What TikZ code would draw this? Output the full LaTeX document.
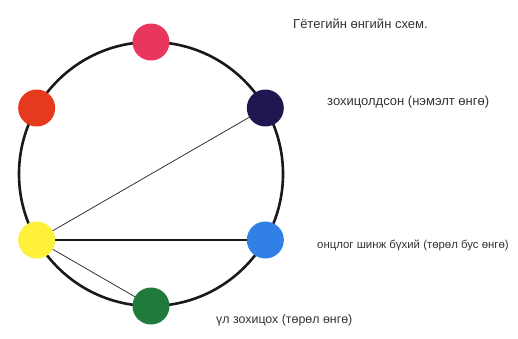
\documentclass[tikz,border=0pt]{standalone}
\usepackage{fontspec}
\setmainfont{Liberation Sans}
\usetikzlibrary{calc}
\definecolor{cpink}{HTML}{E8365C}
\definecolor{cred}{HTML}{E63A1E}
\definecolor{cnavy}{HTML}{221650}
\definecolor{cyellow}{HTML}{FFF03A}
\definecolor{cblue}{HTML}{3080E6}
\definecolor{cgreen}{HTML}{1F7A3C}
\definecolor{ctext}{HTML}{333333}
\tikzset{
  dot/.style={circle, minimum size=37pt, inner sep=0pt, fill=#1},
  lbl/.style={anchor=west, inner sep=0pt, text=ctext},
  ring/.style={line width=2.6pt, black!90},
  chord/.style={line width=0.8pt, black!80},
  chordb/.style={line width=1.3pt, black!90}
}
\begin{document}
\begin{tikzpicture}[x=1pt,y=-1pt]
\useasboundingbox[fill=white] (0,0) rectangle (518,338);
\coordinate (c) at (151,174);
\draw[ring] (c) circle (132);
\coordinate (py) at ($(c)+(-210:132)$);
\coordinate (pn) at ($(c)+(-30:132)$);
\coordinate (pb) at ($(c)+(30:132)$);
\coordinate (pg) at ($(c)+(90:132)$);
\draw[chord] (py) -- (pn);
\draw[chordb] (py) -- (pb);
\draw[chord] (py) -- (pg);
\node[dot=cpink]   (pink)   at ($(c)+(-90:132)$) {};
\node[dot=cred]    (red)    at ($(c)+(-150:132)$) {};
\node[dot=cyellow] (yellow) at (py) {};
\node[dot=cgreen]  (green)  at (pg) {};
\node[dot=cblue]   (blue)   at (pb) {};
\node[dot=cnavy]   (navy)   at (pn) {};
\node[lbl, font=\fontsize{13}{15}\selectfont] (title) at (293,24) {Гётегийн өнгийн схем.};
\node[lbl, font=\fontsize{13}{15}\selectfont] (t1) at (327,102) {зохицолдсон (нэмэлт өнгө)};
\node[lbl, font=\fontsize{11.4}{14}\selectfont] (t2) at (317,245) {онцлог шинж бүхий (төрөл бус өнгө)};
\node[lbl, font=\fontsize{12.4}{15}\selectfont] (t3) at (216,320) {үл зохицох (төрөл өнгө)};
\end{tikzpicture}
\end{document}
